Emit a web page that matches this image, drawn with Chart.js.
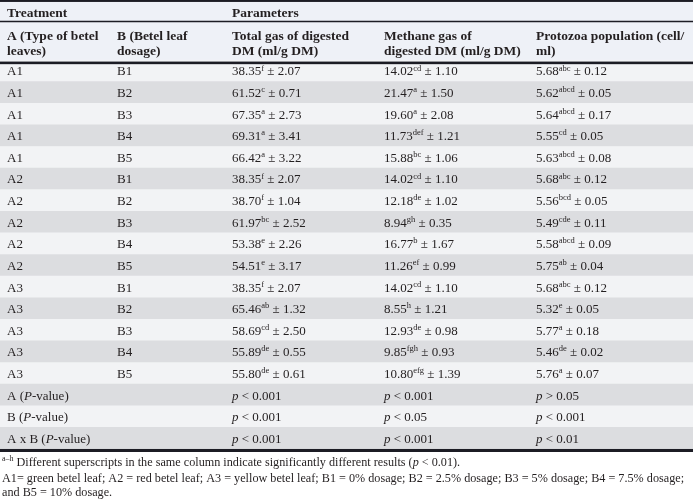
<!DOCTYPE html>
<html>
<head>
<meta charset="utf-8">
<script src="https://cdn.jsdelivr.net/npm/chart.js@4.4.1/dist/chart.umd.min.js"></script>
<style>
  html, body { margin: 0; padding: 0; background: #fff; }
  canvas { display: block; }
</style>
</head>
<body>
<canvas id="table" width="693" height="501"></canvas>
<script>
// treatments
const typeA = ['A1', 'A1', 'A1', 'A1', 'A1', 'A2', 'A2', 'A2', 'A2', 'A2', 'A3', 'A3', 'A3', 'A3', 'A3']
const dosageB = ['B1', 'B2', 'B3', 'B4', 'B5', 'B1', 'B2', 'B3', 'B4', 'B5', 'B1', 'B2', 'B3', 'B4', 'B5']

// total gas of digested DM (ml/g DM)
const totalGas = [38.35, 61.52, 67.35, 69.31, 66.42, 38.35, 38.70, 61.97, 53.38, 54.51, 38.35, 65.46, 58.69, 55.89, 55.80]
const totalGasSup = ['f', 'c', 'a', 'a', 'a', 'f', 'f', 'bc', 'e', 'e', 'f', 'ab', 'cd', 'de', 'de']
const totalGasSd = [2.07, 0.71, 2.73, 3.41, 3.22, 2.07, 1.04, 2.52, 2.26, 3.17, 2.07, 1.32, 2.50, 0.55, 0.61]

// methane gas of digested DM (ml/g DM)
const methane = [14.02, 21.47, 19.60, 11.73, 15.88, 14.02, 12.18, 8.94, 16.77, 11.26, 14.02, 8.55, 12.93, 9.85, 10.80]
const methaneSup = ['cd', 'a', 'a', 'def', 'bc', 'cd', 'de', 'gh', 'b', 'ef', 'cd', 'h', 'de', 'fgh', 'efg']
const methaneSd = [1.10, 1.50, 2.08, 1.21, 1.06, 1.10, 1.02, 0.35, 1.67, 0.99, 1.10, 1.21, 0.98, 0.93, 1.39]

// protozoa population (cell/ml)
const protozoa = [5.68, 5.62, 5.64, 5.55, 5.63, 5.68, 5.56, 5.49, 5.58, 5.75, 5.68, 5.32, 5.77, 5.46, 5.76]
const protozoaSup = ['abc', 'abcd', 'abcd', 'cd', 'abcd', 'abc', 'bcd', 'cde', 'abcd', 'ab', 'abc', 'e', 'a', 'de', 'a']
const protozoaSd = [0.12, 0.05, 0.17, 0.05, 0.08, 0.12, 0.05, 0.11, 0.09, 0.04, 0.12, 0.05, 0.18, 0.02, 0.07]

// P-value rows
const pFactors = ['A', 'B', 'A x B']
const pTotalGas = ['< 0.001', '< 0.001', '< 0.001']
const pMethane = ['< 0.001', '< 0.05', '< 0.001']
const pProtozoa = ['> 0.05', '< 0.001', '< 0.01']

// header texts
const groupHeads = ['Treatment', '', 'Parameters', '', '']
const columnHeads = [
  ['A (Type of betel', 'leaves)'],
  ['B (Betel leaf', 'dosage)'],
  ['Total gas of digested', 'DM (ml/g DM)'],
  ['Methane gas of', 'digested DM (ml/g DM)'],
  ['Protozoa population (cell/', 'ml)']
]

// layout (in scale units)
const colX = [7, 117, 232, 384, 536]
const tableWidth = 693
const yTop = -2.78
const yEnd = 18.14
const serif = '"Liberation Serif", "Times New Roman", serif'
const ink = '#231f20'
const rule = '#1c1c24'

const nRows = typeA.length + pFactors.length
const rowY = Array.from({ length: nRows }, (_, i) => i + 0.5)
const stripes = rowY.map(y => ({ x: tableWidth, y: y }))
const stripeColors = rowY.map((_, i) => i % 2 ? '#dcdde0' : '#f2f3f5')

const cellRuns = (v, sup, sd) => [{ t: v.toFixed(2) }, { t: sup, s: 'sup' }, { t: ' \u00b1 ' + sd.toFixed(2) }]
const pRuns = (txt) => [{ t: 'p', s: 'i' }, { t: ' ' + txt }]

const rows = []
typeA.forEach((a, i) => {
  rows.push([
    [{ t: a }],
    [{ t: dosageB[i] }],
    cellRuns(totalGas[i], totalGasSup[i], totalGasSd[i]),
    cellRuns(methane[i], methaneSup[i], methaneSd[i]),
    cellRuns(protozoa[i], protozoaSup[i], protozoaSd[i])
  ])
})
pFactors.forEach((f, i) => {
  rows.push([
    [{ t: f + ' (' }, { t: 'P', s: 'i' }, { t: '-value)' }],
    [],
    pRuns(pTotalGas[i]),
    pRuns(pMethane[i]),
    pRuns(pProtozoa[i])
  ])
})

const drawRuns = (ctx, x, y, runs, size, bold) => {
  runs.forEach(r => {
    let dy = 0
    let f = (bold ? 'bold ' : '') + size + 'px ' + serif
    if (r.s === 'i') f = 'italic ' + size + 'px ' + serif
    if (r.s === 'sup') { f = (size * 0.65).toFixed(1) + 'px ' + serif; dy = -size * 0.38 }
    ctx.font = f
    ctx.fillText(r.t, x, y + dy)
    x += ctx.measureText(r.t).width
  })
}

const tablePlugin = {
  id: 'tableText',
  beforeDatasetsDraw (chart) {
    const { ctx, scales: { x, y } } = chart
    ctx.save()
    ctx.fillStyle = '#eef1f7'
    ctx.fillRect(x.getPixelForValue(0), y.getPixelForValue(yTop), x.getPixelForValue(tableWidth), y.getPixelForValue(0) - y.getPixelForValue(yTop))
    ctx.restore()
  },
  afterDatasetsDraw (chart) {
    const { ctx, scales: { x, y }, chartArea } = chart
    const band = (a, b) => {
      ctx.fillRect(x.getPixelForValue(0), y.getPixelForValue(a), x.getPixelForValue(tableWidth), y.getPixelForValue(b) - y.getPixelForValue(a))
    }
    ctx.save()
    ctx.fillStyle = rule
    band(yTop, -2.69)
    band(-1.82, -1.75)
    band(0.07, 0.19)
    band(18, yEnd)

    ctx.fillStyle = ink
    ctx.textBaseline = 'alphabetic'
    const base = 4.6
    groupHeads.forEach((h, c) => {
      if (h) drawRuns(ctx, x.getPixelForValue(colX[c]), y.getPixelForValue(-2.21) + base, [{ t: h }], 13.5, true)
    })
    columnHeads.forEach((lines, c) => {
      drawRuns(ctx, x.getPixelForValue(colX[c]), y.getPixelForValue(-1.15) + base, [{ t: lines[0] }], 13.5, true)
      drawRuns(ctx, x.getPixelForValue(colX[c]), y.getPixelForValue(-0.44) + base, [{ t: lines[1] }], 13.5, true)
    })
    rows.forEach((cells, r) => {
      cells.forEach((runs, c) => {
        drawRuns(ctx, x.getPixelForValue(colX[c]), y.getPixelForValue(rowY[r]) + base, runs, 13, false)
      })
    })

    // footnotes
    const fx = x.getPixelForValue(2)
    const fb = chartArea.bottom
    drawRuns(ctx, fx, fb + 14, [
      { t: 'a\u2013h', s: 'sup' },
      { t: ' Different superscripts in the same column indicate significantly different results (' },
      { t: 'p', s: 'i' },
      { t: ' < 0.01).' }
    ], 12.2, false)
    drawRuns(ctx, fx, fb + 30, [{ t: 'A1= green betel leaf; A2 = red betel leaf; A3 = yellow betel leaf; B1 = 0% dosage; B2 = 2.5% dosage; B3 = 5% dosage; B4 = 7.5% dosage;' }], 12.2, false)
    drawRuns(ctx, fx, fb + 44, [{ t: 'and B5 = 10% dosage.' }], 12.2, false)
    ctx.restore()
  }
}

const chart = new Chart(document.getElementById('table').getContext('2d'), {
  type: 'bar',
  data: {
    datasets: [{
      data: stripes,
      backgroundColor: stripeColors,
      borderWidth: 0,
      barPercentage: 1,
      categoryPercentage: 1
    }]
  },
  options: {
    indexAxis: 'y',
    responsive: false,
    animation: false,
    events: [],
    layout: { padding: { top: 0, left: 0, right: 0, bottom: 49 } },
    plugins: { legend: { display: false }, tooltip: { enabled: false } },
    scales: {
      x: { type: 'linear', min: 0, max: tableWidth, display: false },
      y: { type: 'linear', min: yTop, max: yEnd, reverse: true, offset: false, display: false }
    }
  },
  plugins: [tablePlugin]
})
</script>
</body>
</html>
